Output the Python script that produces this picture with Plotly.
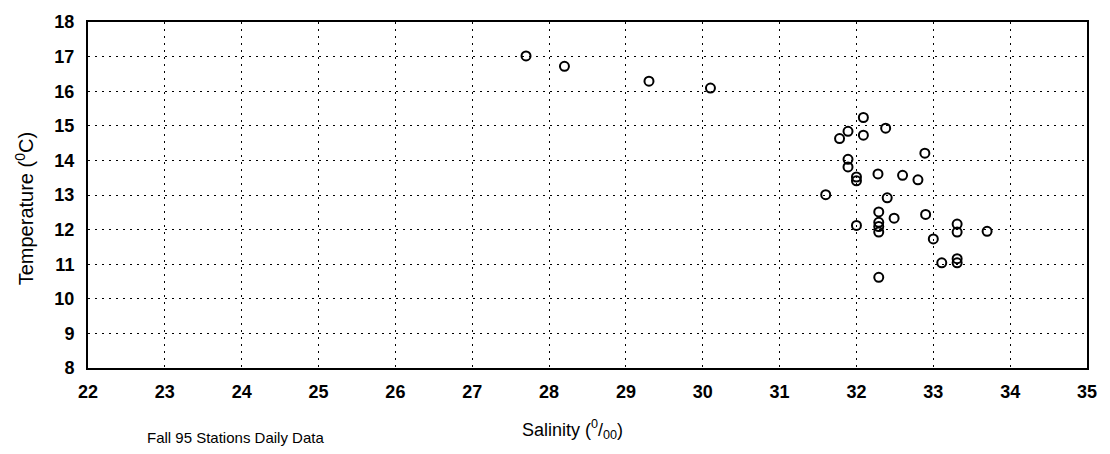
import plotly.graph_objects as go

# Data (salinity in ppt, temperature in deg C)
salinity = [27.70, 28.20, 29.30, 30.10,
            32.09, 32.38, 31.89, 32.09, 31.78, 32.89, 31.89, 31.89,
            32.00, 32.00, 32.28, 32.60, 32.80, 31.60, 32.40, 32.29,
            32.49, 32.90, 32.29, 32.29, 32.29, 32.00, 33.31, 33.31,
            33.70, 33.00, 33.11, 33.31, 33.31, 32.29]
temperature = [17.02, 16.72, 16.29, 16.09,
               15.24, 14.93, 14.84, 14.73, 14.63, 14.21, 14.03, 13.81,
               13.52, 13.41, 13.61, 13.57, 13.44, 13.01, 12.92, 12.51,
               12.33, 12.44, 12.21, 12.09, 11.93, 12.12, 12.16, 11.93,
               11.95, 11.73, 11.04, 11.16, 11.04, 10.62]

x_ticks = list(range(22, 36))
y_ticks = list(range(8, 19))

W, H = 1110, 454
L, R, T, B = 88, 1087, 17, 368


def px_x(px):
    return (px - L) / (R - L)


def px_y(py):
    return (B - py) / (B - T)


fig = go.Figure()
fig.add_trace(go.Scatter(
    x=salinity, y=temperature, mode="markers",
    marker=dict(symbol="circle-open", size=9, color="black",
                line=dict(width=2, color="black")),
    showlegend=False, hoverinfo="x+y",
))

font_family = "Liberation Sans, Arial, sans-serif"
narrow_family = "Liberation Sans Narrow, Arial Narrow, Liberation Sans, sans-serif"
axis_common = dict(
    showgrid=True, gridcolor="black", gridwidth=1.3, griddash="2px,5px",
    showline=True, linecolor="black", linewidth=2, mirror=True,
    zeroline=False, ticks="",
    tickfont=dict(family=font_family, size=18, color="black", weight="bold"),
)

fig.update_xaxes(range=[22, 35], tickvals=x_ticks, ticktext=[str(v) for v in x_ticks],
                 ticklabelstandoff=6, **axis_common)
fig.update_yaxes(range=[8, 18], tickvals=y_ticks, ticktext=[str(v) for v in y_ticks],
                 ticklabelstandoff=8, **axis_common)

fig.update_layout(
    width=W, height=H,
    margin=dict(l=L, r=W - R, t=T, b=H - B),
    paper_bgcolor="white", plot_bgcolor="white",
    font=dict(family=font_family, color="black"),
    annotations=[
        dict(text="Temperature (<sup>0</sup>C)", textangle=-90,
             xref="paper", yref="paper", x=px_x(24), y=px_y(207),
             xanchor="center", yanchor="middle", showarrow=False,
             font=dict(size=20, family=narrow_family, color="black")),
        dict(text="Salinity (<sup>0</sup>/<sub>00</sub>)",
             xref="paper", yref="paper", x=px_x(572), y=px_y(430),
             xanchor="center", yanchor="middle", showarrow=False,
             font=dict(size=18, family=narrow_family, color="black")),
        dict(text="Fall 95 Stations Daily Data",
             xref="paper", yref="paper", x=px_x(235), y=px_y(438),
             xanchor="center", yanchor="middle", showarrow=False,
             font=dict(size=15, family=font_family, color="black")),
    ],
)

fig.write_html("out.html")
